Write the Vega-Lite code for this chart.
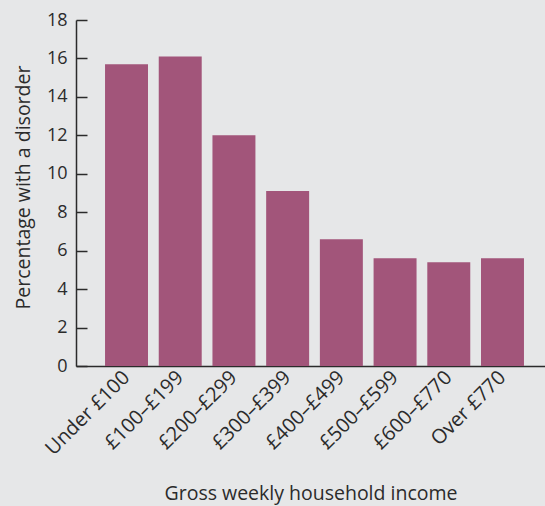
{
  "$schema": "https://vega.github.io/schema/vega-lite/v6.json",
  "width": 469,
  "height": 346,
  "autosize": {"type": "none"},
  "padding": {"left": 76, "top": 20, "right": 0, "bottom": 140},
  "background": "#e6e7e8",
  "config": {
    "view": {"stroke": null},
    "font": "Open Sans",
    "axis": {"grid": false, "labelColor": "#2b2b2b", "titleColor": "#2b2b2b", "domainColor": "#2b2b2b", "tickColor": "#2b2b2b", "labelFont": "Open Sans", "titleFont": "Open Sans", "titleFontWeight": "normal"}
  },
  "data": {
    "values": [
      {"income": "Under £100", "pct": 15.7},
      {"income": "£100–£199", "pct": 16.1},
      {"income": "£200–£299", "pct": 12.0},
      {"income": "£300–£399", "pct": 9.1},
      {"income": "£400–£499", "pct": 6.6},
      {"income": "£500–£599", "pct": 5.6},
      {"income": "£600–£770", "pct": 5.4},
      {"income": "Over £770", "pct": 5.6}
    ]
  },
  "mark": {"type": "bar", "color": "#a2557a"},
  "encoding": {
    "x": {
      "field": "income", "type": "nominal", "sort": null,
      "scale": {"paddingInner": 0.2, "paddingOuter": 0.466, "align": 0.58},
      "axis": {"title": "Gross weekly household income", "labelAngle": -45, "labelAlign": "right", "labelBaseline": "middle", "ticks": false, "labelPadding": 8, "labelFontSize": 20, "titleFontSize": 19.5, "titleY": 127, "titleBaseline": "middle", "domainWidth": 1.5}
    },
    "y": {
      "field": "pct", "type": "quantitative",
      "scale": {"domain": [0, 18]},
      "axis": {"title": "Percentage with a disorder", "values": [0,2,4,6,8,10,12,14,16,18], "tickSize": -11, "labelPadding": 20, "labelFontSize": 18, "titleFontSize": 19.5, "titleX": -53, "titleY": 167, "titleBaseline": "middle", "domainWidth": 1.5, "tickWidth": 1.5}
    }
  }
}
